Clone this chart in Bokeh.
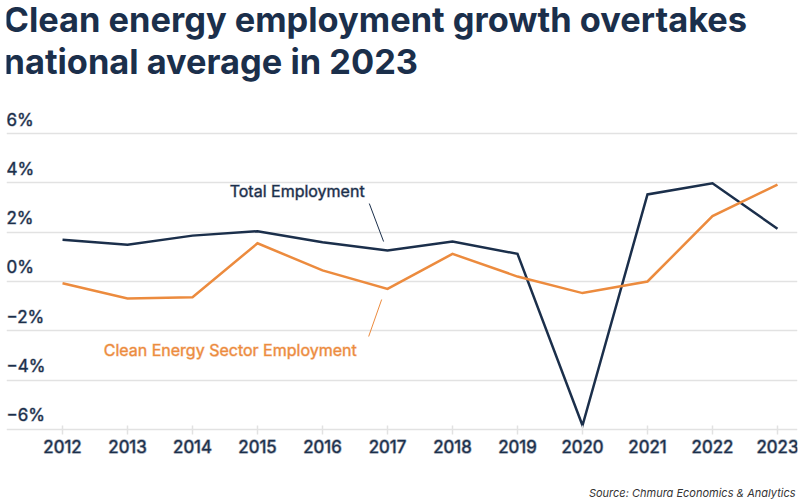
from bokeh.plotting import figure
from bokeh.models import Label, FixedTicker, Range1d, ColumnDataSource
from bokeh.core.properties import value
from bokeh.embed import file_html
from bokeh.resources import INLINE

# ---- data ----
years = [2012, 2013, 2014, 2015, 2016, 2017, 2018, 2019, 2020, 2021, 2022, 2023]
total_employment = [1.69, 1.49, 1.86, 2.04, 1.59, 1.26, 1.62, 1.12, -5.84, 3.53, 3.98, 2.14]
clean_energy = [-0.07, -0.69, -0.64, 1.55, 0.45, -0.30, 1.12, 0.20, -0.47, 0.00, 2.65, 3.93]
y_ticks = [-6, -4, -2, 0, 2, 4, 6]
y_tick_labels = ["\u22126%", "\u22124%", "\u22122%", "0%", "2%", "4%", "6%"]
title_lines = ["Clean energy employment growth overtakes", "national average in 2023"]
total_label = "Total Employment"
clean_label = "Clean Energy Sector Employment"
source_note = "Source: Chmura Economics & Analytics"

NAVY = "#1b2f4b"
NAVY_SOFT = "#1b2f4b70"
ORANGE = "#ec8b3e"
ORANGE_SOFT = "#ec8b3e70"
GRID = "#e2e2e2"
FONT = "Inter"

W, H = 800, 499
FRAME_W = W - 6 - 3
X0, X1 = 2011.138, 2023.308
Y0, Y1 = -8.838, 11.392
p = figure(width=W, height=H, output_backend="svg", toolbar_location=None,
           x_range=Range1d(X0, X1), y_range=Range1d(Y0, Y1),
           y_axis_location=None,
           min_border_left=6, min_border_right=3, min_border_top=0, min_border_bottom=0)
p.outline_line_color = None
p.background_fill_color = "white"
p.border_fill_color = "white"

p.xgrid.visible = False
p.ygrid.ticker = FixedTicker(ticks=y_ticks)
p.ygrid.grid_line_color = GRID
p.ygrid.grid_line_width = 1.5

ax = p.xaxis[0]
ax.fixed_location = min(y_ticks)
ax.ticker = FixedTicker(ticks=years)
ax.axis_line_color = None
ax.major_tick_line_color = GRID
ax.major_tick_line_width = 1.5
ax.major_tick_in = 4
ax.major_tick_out = 5
ax.minor_tick_line_color = None
ax.major_label_text_font = FONT
ax.major_label_text_font_size = "17px"
ax.major_label_text_color = NAVY
ax.major_label_text_outline_color = NAVY_SOFT
ax.major_label_standoff = 6

# title lines (screen units, measured from the bottom-left of the plot frame)
for i, line in enumerate(title_lines):
    p.add_layout(Label(x=-3, y=H - 19 - 42 * i, x_units="screen", y_units="screen", text=line,
                       text_font=FONT, text_font_size="34.4px", text_font_style="bold",
                       text_color=NAVY, text_align="left", text_baseline="alphabetic"))

# source note
p.add_layout(Label(x=FRAME_W - 2, y=7, x_units="screen", y_units="screen", text=source_note,
                   text_font=FONT, text_font_size="11px", text_font_style="italic",
                   text_color="#333333", text_align="right", text_baseline="middle"))

# y tick labels above gridlines
ysrc = ColumnDataSource(dict(x=[X0] * len(y_ticks), y=y_ticks, t=y_tick_labels))
p.text(x="x", y="y", text="t", source=ysrc, text_font=value(FONT), text_font_size="17px",
       text_color=NAVY, text_baseline="alphabetic", text_align="left", y_offset=-14,
       text_outline_color=NAVY_SOFT)

# series
p.line(years, total_employment, line_color=NAVY, line_width=2.5, line_join="miter")
p.line(years, clean_energy, line_color=ORANGE, line_width=2.5, line_join="miter")

# annotations with leader lines
p.segment(x0=[2016.72], y0=[3.16], x1=[2016.94], y1=[1.62], line_color=NAVY, line_width=1)
p.segment(x0=[2016.71], y0=[-2.23], x1=[2016.91], y1=[-0.73], line_color=ORANGE, line_width=1)
p.add_layout(Label(x=2015.61, y=3.65, text=total_label, text_font=FONT, text_font_size="16px",
                   text_color=NAVY, text_outline_color=NAVY_SOFT,
                   text_align="center", text_baseline="middle"))
p.add_layout(Label(x=2014.58, y=-2.76, text=clean_label, text_font=FONT, text_font_size="16px",
                   text_color=ORANGE, text_outline_color=ORANGE_SOFT,
                   text_align="center", text_baseline="middle"))

open("out.html", "w").write(file_html(p, INLINE))
